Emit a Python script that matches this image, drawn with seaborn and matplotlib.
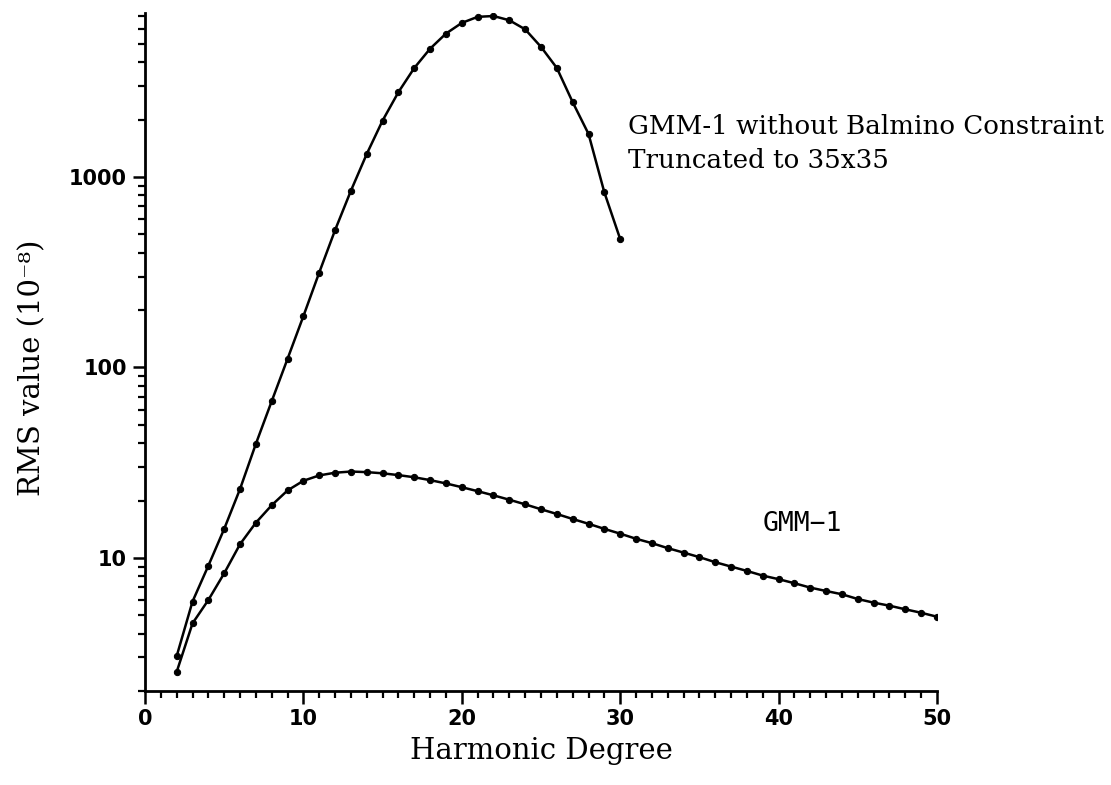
import numpy as np
import pandas as pd
import matplotlib
matplotlib.use("Agg")
import matplotlib.pyplot as plt
import matplotlib.ticker as mticker
import seaborn as sns

# ---- data ----
deg_unconstrained = list(range(2, 31))
rms_unconstrained = [3.05, 5.9, 9.1, 14.2, 23.0, 39.7, 66.5, 111, 186, 315,
                     526, 847, 1321, 1978, 2790, 3735, 4716, 5660, 6440, 6930,
                     7000, 6650, 5960, 4820, 3735, 2470, 1683, 830, 472]

deg_gmm1 = list(range(2, 51))
rms_gmm1 = [2.52, 4.53, 6.01, 8.3, 11.8, 15.3, 18.9, 22.6, 25.4, 27.1,
            28.0, 28.4, 28.2, 27.8, 27.2, 26.5, 25.6, 24.6, 23.5, 22.4,
            21.3, 20.2, 19.1, 18.0, 17.0, 16.0, 15.1, 14.2, 13.4, 12.6,
            11.95, 11.25, 10.66, 10.09, 9.49, 9.0, 8.54, 8.07, 7.73, 7.36,
            6.98, 6.70, 6.44, 6.08, 5.82, 5.61, 5.37, 5.15, 4.91]

label_unconstrained = "GMM-1 without Balmino Constraint\nTruncated to 35x35"
label_gmm1 = "GMM\u22121"
x_ticks = [0, 10, 20, 30, 40, 50]
y_ticks = [10, 100, 1000]

df = pd.concat([
    pd.DataFrame({"degree": deg_unconstrained, "rms": rms_unconstrained, "model": "unc"}),
    pd.DataFrame({"degree": deg_gmm1, "rms": rms_gmm1, "model": "gmm1"}),
])

sns.set_style("ticks")
plt.rcParams["font.family"] = ["DejaVu Serif"]
plt.rcParams["text.color"] = "black"
plt.rcParams["axes.labelcolor"] = "black"
plt.rcParams["xtick.color"] = "black"
plt.rcParams["ytick.color"] = "black"

fig = plt.figure(figsize=(11.11, 7.85), dpi=100)
ax = fig.add_axes([145 / 1111, 1 - 691 / 785, (937 - 145) / 1111, (691 - 13) / 785])

sns.lineplot(data=df, x="degree", y="rms", units="model", estimator=None,
             color="black", lw=1.8, marker="o", markersize=4.5,
             markeredgecolor="black", ax=ax, legend=False, sort=False)

ax.set_yscale("log")
ax.set_xlim(0, 50)
ax.set_ylim(2, 7260)

ax.xaxis.set_major_locator(mticker.FixedLocator(x_ticks))
ax.xaxis.set_minor_locator(mticker.MultipleLocator(1))
ax.yaxis.set_major_locator(mticker.FixedLocator(y_ticks))
ax.yaxis.set_minor_locator(mticker.LogLocator(base=10, subs=np.arange(2, 10)))
ax.yaxis.set_major_formatter(mticker.FuncFormatter(lambda v, p: f"{int(round(v))}"))
ax.yaxis.set_minor_formatter(mticker.NullFormatter())
ax.xaxis.set_major_formatter(mticker.FuncFormatter(lambda v, p: f"{int(round(v))}"))

for s in ["top", "right"]:
    ax.spines[s].set_visible(False)
for s in ["left", "bottom"]:
    ax.spines[s].set_linewidth(2.0)
    ax.spines[s].set_color("black")

ax.tick_params(axis="both", which="major", direction="out", length=9, width=1.8,
               color="black", labelcolor="black", pad=4)
ax.tick_params(axis="both", which="minor", direction="out", length=5, width=1.6,
               color="black")
for lab in ax.get_xticklabels() + ax.get_yticklabels():
    lab.set_fontfamily("DejaVu Sans")
    lab.set_fontweight("bold")
    lab.set_fontsize(15)

ax.set_xlabel("Harmonic Degree", fontsize=21, labelpad=6)
ax.set_ylabel("RMS value (10\u207b\u2078)", fontsize=21)
ax.yaxis.set_label_coords(-0.125, 0.476)

ax.text(30.5, 1493, label_unconstrained, fontsize=18.8, ha="left", va="center",
        linespacing=1.45)
ax.text(39.0, 15.1, label_gmm1, fontsize=19, ha="left", va="center",
        fontfamily="DejaVu Sans Mono")

ax.grid(False)
fig.savefig("out.png", dpi=100, facecolor="white")
